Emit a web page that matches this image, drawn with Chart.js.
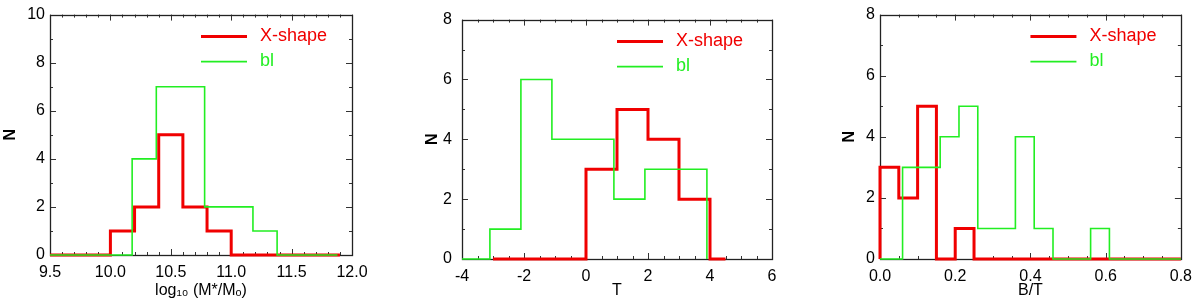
<!DOCTYPE html>
<html>
<head>
<meta charset="utf-8">
<script src="https://cdn.jsdelivr.net/npm/chart.js@4.4.1/dist/chart.umd.min.js"></script>
<style>
  html, body { margin: 0; padding: 0; background: #fff; }
  #wrap { position: relative; width: 1200px; height: 301px; overflow: hidden; }
  .panel { position: absolute; top: 0; width: 400px; height: 301px; }
</style>
</head>
<body>
<div id="wrap">
  <div class="panel" style="left:0px"><canvas id="c1" width="400" height="301"></canvas></div>
  <div class="panel" style="left:400px"><canvas id="c2" width="400" height="301"></canvas></div>
  <div class="panel" style="left:800px"><canvas id="c3" width="400" height="301"></canvas></div>
</div>
<script>
// ---------- DATA ----------
const seriesNames = ["X-shape", "bl"];

// Panel 1: log10 stellar mass
const massRedEdges   = [9.5, 10.0, 10.2, 10.4, 10.6, 10.8, 11.0, 11.9];
const massRedCounts  = [0, 1, 2, 5, 2, 1, 0];
const massGreenEdges = [9.5, 10.18, 10.38, 10.78, 11.18, 11.38, 11.88];
const massGreenCounts= [0, 4, 7, 2, 1, 0];

// Panel 2: Hubble type T
const typeRedEdges   = [-3, 0, 1, 2, 3, 4, 4.5];
const typeRedCounts  = [0, 3, 5, 4, 2, 0];
const typeGreenEdges = [-4, -3.1, -2.1, -1.1, 0.9, 1.9, 3.9];
const typeGreenCounts= [0, 1, 6, 4, 2, 3];

// Panel 3: B/T
const btRedEdges   = [0, 0.05, 0.1, 0.15, 0.2, 0.25, 0.8];
const btRedCounts  = [3, 2, 5, 0, 1, 0];
const btGreenEdges = [0, 0.06, 0.16, 0.21, 0.26, 0.36, 0.41, 0.46, 0.56, 0.61, 0.8];
const btGreenCounts= [0, 3, 4, 5, 1, 4, 1, 0, 1, 0];

// Axis tick settings
const massXTicks = [9.5, 10.0, 10.5, 11.0, 11.5, 12.0];
const typeXTicks = [-4, -2, 0, 2, 4, 6];
const btXTicks   = [0.0, 0.2, 0.4, 0.6, 0.8];
const massYTicks = [0, 2, 4, 6, 8, 10];
const nYTicks8   = [0, 2, 4, 6, 8];

// ---------- STYLE ----------
const RED = '#f00000';
const GREEN = '#22ee22';
const FONT = "'Liberation Sans', Arial, Helvetica, sans-serif";
Chart.defaults.color = '#000';
Chart.defaults.font.family = FONT;

function histPoints(edges, counts) {
  const pts = [{x: edges[0], y: 0}];
  counts.forEach((c, i) => pts.push({x: edges[i], y: c}));
  pts.push({x: edges[edges.length - 1], y: 0});
  return pts;
}

// Frame with inward major/minor ticks on all sides
const framePlugin = {
  id: 'frame',
  beforeDatasetsDraw(chart, args, opts) {
    const {ctx, chartArea: a, scales: {x, y}} = chart;
    ctx.save();
    ctx.strokeStyle = '#333';
    ctx.lineWidth = 1;
    const eps = 1e-6;
    for (let v = x.min; v <= x.max + eps; v += opts.xMinor) {
      const px = Math.round(x.getPixelForValue(v)) + 0.5;
      const r = v / opts.xMajor;
      const major = Math.abs(r - Math.round(r)) < 1e-4;
      const len = major ? 6 : 3;
      ctx.beginPath();
      ctx.moveTo(px, a.bottom); ctx.lineTo(px, a.bottom - len);
      ctx.moveTo(px, a.top); ctx.lineTo(px, a.top + len);
      ctx.stroke();
    }
    for (let v = y.min; v <= y.max + eps; v += opts.yMinor) {
      const py = Math.round(y.getPixelForValue(v)) + 0.5;
      const r = v / opts.yMajor;
      const major = Math.abs(r - Math.round(r)) < 1e-4;
      const len = major ? 6 : 3;
      ctx.beginPath();
      ctx.moveTo(a.left, py); ctx.lineTo(a.left + len, py);
      ctx.moveTo(a.right, py); ctx.lineTo(a.right - len, py);
      ctx.stroke();
    }
    ctx.lineWidth = 1.3;
    ctx.strokeStyle = '#222';
    ctx.strokeRect(Math.round(a.left) + 0.5, Math.round(a.top) + 0.5,
                   Math.round(a.right - a.left), Math.round(a.bottom - a.top));
    ctx.restore();
  },
  afterDraw(chart) {
    const {ctx, chartArea: a} = chart;
    const x0 = a.left + 0.5 * (a.right - a.left);
    ctx.save();
    ctx.font = '18px ' + FONT;
    ctx.textBaseline = 'middle';
    chart.data.datasets.forEach((ds, i) => {
      const yy = a.top + 22 + i * 25;
      ctx.strokeStyle = ds.borderColor;
      ctx.lineWidth = ds.borderWidth;
      ctx.beginPath();
      ctx.moveTo(x0, yy); ctx.lineTo(x0 + 46, yy);
      ctx.stroke();
      ctx.fillStyle = ds.borderColor;
      ctx.fillText(ds.label, x0 + 59, yy - 1);
    });
    ctx.restore();
  }
};

function makeChart(id, cfg) {
  const data = {
    datasets: [
      { label: seriesNames[0], data: histPoints(cfg.redEdges, cfg.redCounts),
        borderColor: RED, borderWidth: 3, order: 1 },
      { label: seriesNames[1], data: histPoints(cfg.greenEdges, cfg.greenCounts),
        borderColor: GREEN, borderWidth: 1.6, order: 0 }
    ]
  };
  data.datasets.forEach(d => Object.assign(d, {
    stepped: 'before', pointRadius: 0, fill: false, tension: 0, clip: false,
    borderJoinStyle: 'miter', borderCapStyle: 'butt'
  }));
  return new Chart(document.getElementById(id), {
    type: 'line',
    data,
    options: {
      responsive: false,
      animation: false,
      devicePixelRatio: 1,
      events: [],
      layout: { padding: { left: cfg.padLeft, right: cfg.padRight, top: cfg.padTop, bottom: 0 } },
      plugins: {
        legend: { display: false },
        tooltip: { enabled: false },
        frame: { xMajor: cfg.xMajor, xMinor: cfg.xMinor, yMajor: 2, yMinor: 1 }
      },
      scales: {
        x: {
          type: 'linear',
          min: cfg.xTicks[0], max: cfg.xTicks[cfg.xTicks.length - 1],
          afterBuildTicks: s => { s.ticks = cfg.xTicks.map(v => ({value: v})); },
          afterFit: s => { s.height = cfg.xHeight; },
          grid: { display: false, drawTicks: false },
          border: { display: false },
          ticks: { font: { size: 16 }, padding: 8, maxRotation: 0, autoSkip: false,
                   callback: v => cfg.xFmt(v) },
          title: { display: true, text: cfg.xTitle, font: { size: 16 }, padding: { top: 0, bottom: 1 } }
        },
        y: {
          type: 'linear',
          min: 0, max: cfg.yTicks[cfg.yTicks.length - 1],
          afterBuildTicks: s => { s.ticks = cfg.yTicks.map(v => ({value: v})); },
          afterFit: s => { s.width = cfg.yWidth; },
          grid: { display: false, drawTicks: false },
          border: { display: false },
          ticks: { font: { size: 16 }, padding: cfg.yPad, autoSkip: false,
                   callback: v => String(v) },
          title: { display: true, text: 'N', font: { size: 16, weight: 'bold' }, padding: { top: 1, bottom: 0 } }
        }
      }
    },
    plugins: [framePlugin]
  });
}

makeChart('c1', {
  redEdges: massRedEdges, redCounts: massRedCounts,
  greenEdges: massGreenEdges, greenCounts: massGreenCounts,
  xTicks: massXTicks, yTicks: massYTicks, xMajor: 0.5, xMinor: 0.1,
  xFmt: v => v.toFixed(1), xTitle: 'log\u2081\u2080 (M*/M\u2092)',
  padLeft: 0, padRight: 48, padTop: 7, xHeight: 46, yWidth: 50, yPad: 5
});
makeChart('c2', {
  redEdges: typeRedEdges, redCounts: typeRedCounts,
  greenEdges: typeGreenEdges, greenCounts: typeGreenCounts,
  xTicks: typeXTicks, yTicks: nYTicks8, xMajor: 2, xMinor: 0.5,
  xFmt: v => String(Math.round(v)), xTitle: 'T',
  padLeft: 22, padRight: 28, padTop: 6, xHeight: 42, yWidth: 40, yPad: 10
});
makeChart('c3', {
  redEdges: btRedEdges, redCounts: btRedCounts,
  greenEdges: btGreenEdges, greenCounts: btGreenCounts,
  xTicks: btXTicks, yTicks: nYTicks8, xMajor: 0.2, xMinor: 0.05,
  xFmt: v => v.toFixed(1), xTitle: 'B/T',
  padLeft: 39, padRight: 12, padTop: 6, xHeight: 42, yWidth: 41, yPad: 5
});
</script>
</body>
</html>
